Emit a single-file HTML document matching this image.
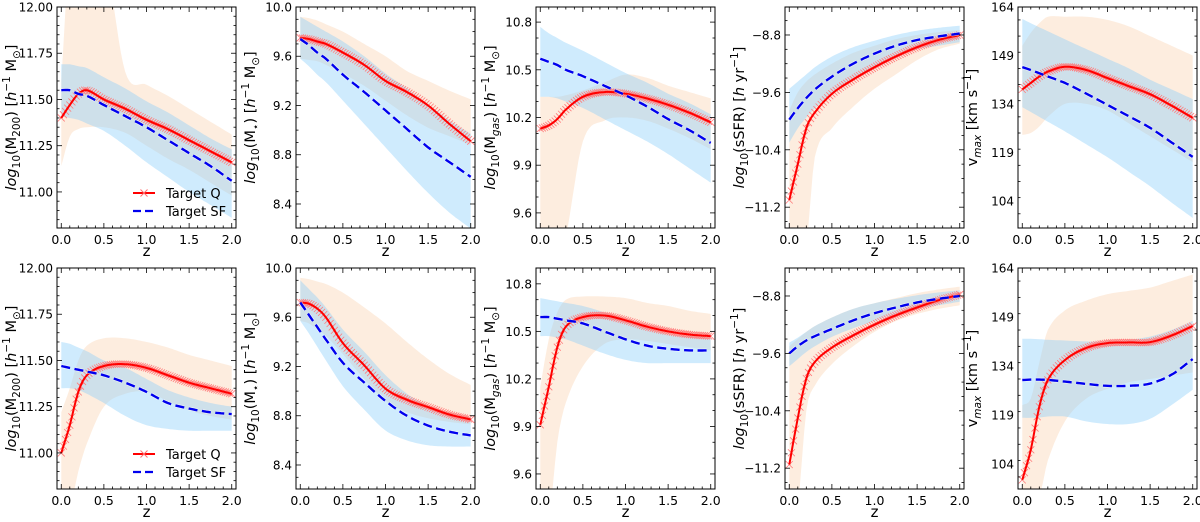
<!DOCTYPE html>
<html><head><meta charset="utf-8"><style>
body{margin:0;background:#fff}
svg{display:block;font-family:"DejaVu Sans","Liberation Sans",sans-serif}
</style></head><body>
<svg id="fig" width="1200" height="522" viewBox="0 0 1200 522"></svg>
<script>
const Z=[0,0.1,0.2,0.3,0.5,0.75,1.0,1.25,1.5,1.75,2.0];
const xTicks=[0,0.5,1.0,1.5,2.0];
const xTickLabels=["0.0","0.5","1.0","1.5","2.0"];
// top row
const m200TopQ=[11.40,11.47,11.53,11.55,11.50,11.45,11.39,11.34,11.28,11.22,11.16];
const m200TopSF=[11.55,11.55,11.53,11.52,11.47,11.41,11.35,11.28,11.21,11.14,11.06];
const m200TopQHi=[11.6,12.3,12.3,12.3,12.3,11.65,11.58,11.52,11.45,11.38,11.31];
const m200TopQLo=[11.14,11.3,11.34,11.35,11.35,11.32,11.25,11.18,11.12,11.05,10.98];
const m200TopSFHi=[11.69,11.69,11.68,11.67,11.62,11.56,11.49,11.43,11.36,11.29,11.23];
const m200TopSFLo=[11.41,11.40,11.39,11.37,11.33,11.25,11.16,11.08,11.0,10.93,10.86];
const mstarTopQ=[9.75,9.74,9.72,9.70,9.63,9.53,9.40,9.31,9.20,9.05,8.91];
const mstarTopSF=[9.74,9.69,9.63,9.58,9.45,9.31,9.16,9.01,8.86,8.74,8.62];
const mstarTopQHi=[9.92,9.91,9.89,9.86,9.80,9.70,9.60,9.48,9.40,9.32,9.25];
const mstarTopQLo=[9.58,9.57,9.56,9.53,9.46,9.36,9.24,9.12,9.02,8.95,8.88];
const mstarTopSFHi=[9.92,9.88,9.84,9.80,9.72,9.60,9.46,9.34,9.21,9.08,8.97];
const mstarTopSFLo=[9.58,9.52,9.45,9.39,9.24,9.05,8.86,8.67,8.49,8.33,8.2];
const mgasTopQ=[10.13,10.15,10.19,10.25,10.33,10.36,10.35,10.32,10.28,10.23,10.17];
const mgasTopSF=[10.57,10.55,10.53,10.50,10.46,10.40,10.34,10.27,10.19,10.12,10.04];
const mgasTopQHi=[10.33,10.33,10.33,10.34,10.37,10.42,10.47,10.45,10.40,10.36,10.32];
const mgasTopQLo=[9.3,9.3,9.3,9.45,10.05,10.18,10.2,10.18,10.13,10.07,10.0];
const mgasTopSFHi=[10.77,10.73,10.70,10.67,10.62,10.55,10.48,10.42,10.35,10.29,10.22];
const mgasTopSFLo=[10.33,10.33,10.32,10.30,10.26,10.19,10.12,10.05,9.97,9.88,9.79];
const ssfrTopQ=[-11.1,-10.6,-10.1,-9.88,-9.62,-9.42,-9.25,-9.1,-8.97,-8.87,-8.80];
const ssfrTopSF=[-9.98,-9.82,-9.68,-9.56,-9.38,-9.2,-9.06,-8.95,-8.87,-8.82,-8.78];
const ssfrTopQHi=[-9.85,-9.6,-9.45,-9.35,-9.2,-9.05,-8.95,-8.86,-8.80,-8.76,-8.73];
const ssfrTopQLo=[-11.7,-11.7,-11.7,-10.5,-10.1,-9.8,-9.55,-9.35,-9.15,-9.0,-8.92];
const ssfrTopSFHi=[-9.55,-9.45,-9.35,-9.25,-9.1,-8.97,-8.88,-8.80,-8.74,-8.70,-8.67];
const ssfrTopSFLo=[-10.3,-10.1,-9.95,-9.82,-9.62,-9.42,-9.27,-9.12,-9.0,-8.95,-8.9];
const vmaxTopQ=[138.5,140.5,142.5,144,145.5,144.5,142,139.5,137,133.5,129.7];
const vmaxTopSF=[145.4,144.5,143.5,142.5,140.5,137.2,133.7,130.2,126.6,122.1,117.6];
const vmaxTopQHi=[152,156,159,161,161,161,160,158,155,152,149];
const vmaxTopQLo=[124.4,125,127,130,134,134,132,128,124,120,116];
const vmaxTopSFHi=[160.3,159,157.7,156.5,154,151,148,145,141.5,138.5,135.5];
const vmaxTopSFLo=[133,131.5,130,128.5,125.5,121.5,117.5,113,108.5,103.5,98.7];
// bottom row
const m200BotQ=[11.0,11.15,11.33,11.42,11.47,11.48,11.46,11.42,11.38,11.35,11.32];
const m200BotSF=[11.47,11.46,11.45,11.44,11.42,11.38,11.33,11.27,11.24,11.22,11.21];
const m200BotQHi=[11.22,11.35,11.50,11.58,11.62,11.62,11.60,11.57,11.53,11.50,11.47];
const m200BotQLo=[10.7,10.7,10.9,11.05,11.25,11.32,11.33,11.28,11.23,11.2,11.18];
const m200BotSFHi=[11.60,11.59,11.57,11.55,11.50,11.46,11.40,11.34,11.30,11.27,11.25];
const m200BotSFLo=[11.35,11.35,11.34,11.32,11.27,11.2,11.15,11.13,11.12,11.12,11.12];
const mstarBotQ=[9.72,9.71,9.67,9.60,9.39,9.21,9.02,8.93,8.87,8.81,8.77];
const mstarBotSF=[9.72,9.62,9.52,9.42,9.23,9.07,8.92,8.80,8.72,8.67,8.64];
const mstarBotQHi=[9.92,9.91,9.89,9.87,9.80,9.68,9.55,9.40,9.26,9.14,9.05];
const mstarBotQLo=[9.57,9.55,9.5,9.45,9.3,9.1,8.92,8.83,8.78,8.75,8.73];
const mstarBotSFHi=[9.90,9.83,9.76,9.68,9.50,9.32,9.13,8.98,8.88,8.82,8.78];
const mstarBotSFLo=[9.57,9.47,9.36,9.25,9.04,8.85,8.68,8.6,8.56,8.55,8.55];
const mgasBotQ=[9.91,10.15,10.40,10.53,10.59,10.60,10.57,10.53,10.50,10.48,10.47];
const mgasBotSF=[10.59,10.59,10.58,10.57,10.55,10.50,10.45,10.41,10.39,10.38,10.38];
const mgasBotQHi=[10.15,10.45,10.62,10.70,10.72,10.72,10.71,10.68,10.66,10.63,10.61];
const mgasBotQLo=[9.3,9.3,9.8,10.05,10.28,10.42,10.45,10.44,10.42,10.40,10.38];
const mgasBotSFHi=[10.71,10.70,10.69,10.68,10.66,10.62,10.57,10.52,10.48,10.47,10.46];
const mgasBotSFLo=[10.47,10.47,10.46,10.45,10.41,10.36,10.32,10.30,10.30,10.30,10.30];
const ssfrBotQ=[-11.15,-10.5,-9.95,-9.72,-9.52,-9.35,-9.2,-9.07,-8.96,-8.86,-8.78];
const ssfrBotSF=[-9.6,-9.5,-9.42,-9.36,-9.26,-9.14,-9.04,-8.96,-8.89,-8.84,-8.80];
const ssfrBotQHi=[-9.5,-9.4,-9.3,-9.22,-9.1,-8.98,-8.9,-8.83,-8.76,-8.71,-8.67];
const ssfrBotQLo=[-11.7,-11.7,-10.4,-10.05,-9.75,-9.5,-9.3,-9.15,-9.05,-8.98,-8.93];
const ssfrBotSFHi=[-9.45,-9.38,-9.3,-9.22,-9.1,-8.98,-8.9,-8.84,-8.79,-8.75,-8.72];
const ssfrBotSFLo=[-9.78,-9.68,-9.58,-9.5,-9.37,-9.25,-9.15,-9.05,-8.98,-8.93,-8.88];
const vmaxBotQ=[99.1,108.3,121.5,129.7,135.8,139.5,141,141.2,141.3,143.3,146.2];
const vmaxBotSF=[129.7,129.8,129.8,129.7,129.2,128.5,127.9,127.9,128.6,131.3,136.1];
const vmaxBotQHi=[122,124,135,145,151,154,156,157,158,160,162];
const vmaxBotQLo=[94,94,94,105,117,124,127,129,130,131,132];
const vmaxBotSFHi=[142.3,142.3,142.2,142,141.8,141.5,141.5,142,143,145,147.8];
const vmaxBotSFLo=[118.1,118.1,118.2,118.5,118.5,117,116.2,116.2,117.8,122,126.7];

const NS="http://www.w3.org/2000/svg";
const svg=document.getElementById('fig');
function mk(tag,attrs,parent){const e=document.createElementNS(NS,tag);for(const k in attrs)e.setAttribute(k,attrs[k]);(parent||svg).appendChild(e);return e;}
function interp(V,z){let i=0;while(i<Z.length-2&&z>Z[i+1])i++;
  const tan=j=>{if(j===0)return (V[1]-V[0])/(Z[1]-Z[0]);if(j===Z.length-1)return (V[j]-V[j-1])/(Z[j]-Z[j-1]);return (V[j+1]-V[j-1])/(Z[j+1]-Z[j-1]);};
  const h=Z[i+1]-Z[i],t=(z-Z[i])/h,t2=t*t,t3=t2*t;
  return (2*t3-3*t2+1)*V[i]+(t3-2*t2+t)*h*tan(i)+(-2*t3+3*t2)*V[i+1]+(t3-t2)*h*tan(i+1);}
const W=179,H=221,XMIN=-0.05,XMAX=2.05;
const panels=[
 {id:'m200-top',L:57,T:7,ymin:10.805,ymax:12.0,maj:[11.0,11.25,11.5,11.75,12.0],dec:2,minor:0.05,lab:'m200',d:[m200TopQ,m200TopSF,m200TopQHi,m200TopQLo,m200TopSFHi,m200TopSFLo],legend:true},
 {id:'mstar-top',L:296,T:7,ymin:8.205,ymax:10.0,maj:[8.4,8.8,9.2,9.6,10.0],dec:1,minor:0.1,lab:'mstar',d:[mstarTopQ,mstarTopSF,mstarTopQHi,mstarTopQLo,mstarTopSFHi,mstarTopSFLo]},
 {id:'mgas-top',L:536,T:7,ymin:9.505,ymax:10.895,maj:[9.6,9.9,10.2,10.5,10.8],dec:1,minor:0.1,lab:'mgas',d:[mgasTopQ,mgasTopSF,mgasTopQHi,mgasTopQLo,mgasTopSFHi,mgasTopSFLo]},
 {id:'ssfr-top',L:785,T:7,ymin:-11.49,ymax:-8.41,maj:[-11.2,-10.4,-9.6,-8.8],dec:1,minor:0.2,lab:'ssfr',d:[ssfrTopQ,ssfrTopSF,ssfrTopQHi,ssfrTopQLo,ssfrTopSFHi,ssfrTopSFLo]},
 {id:'vmax-top',L:1018,T:7,ymin:95.6,ymax:164,maj:[104,119,134,149,164],dec:0,minor:5,lab:'vmax',d:[vmaxTopQ,vmaxTopSF,vmaxTopQHi,vmaxTopQLo,vmaxTopSFHi,vmaxTopSFLo]},
 {id:'m200-bottom',L:57,T:268,ymin:10.805,ymax:12.0,maj:[11.0,11.25,11.5,11.75,12.0],dec:2,minor:0.05,lab:'m200',d:[m200BotQ,m200BotSF,m200BotQHi,m200BotQLo,m200BotSFHi,m200BotSFLo],legend:true},
 {id:'mstar-bottom',L:296,T:268,ymin:8.205,ymax:10.0,maj:[8.4,8.8,9.2,9.6,10.0],dec:1,minor:0.1,lab:'mstar',d:[mstarBotQ,mstarBotSF,mstarBotQHi,mstarBotQLo,mstarBotSFHi,mstarBotSFLo]},
 {id:'mgas-bottom',L:536,T:268,ymin:9.505,ymax:10.9,maj:[9.6,9.9,10.2,10.5,10.8],dec:1,minor:0.1,lab:'mgas',d:[mgasBotQ,mgasBotSF,mgasBotQHi,mgasBotQLo,mgasBotSFHi,mgasBotSFLo]},
 {id:'ssfr-bottom',L:785,T:268,ymin:-11.49,ymax:-8.41,maj:[-11.2,-10.4,-9.6,-8.8],dec:1,minor:0.2,lab:'ssfr',d:[ssfrBotQ,ssfrBotSF,ssfrBotQHi,ssfrBotQLo,ssfrBotSFHi,ssfrBotSFLo]},
 {id:'vmax-bottom',L:1018,T:268,ymin:96.3,ymax:164,maj:[104,119,134,149,164],dec:0,minor:5,lab:'vmax',d:[vmaxBotQ,vmaxBotSF,vmaxBotQHi,vmaxBotQLo,vmaxBotSFHi,vmaxBotSFLo]}
];
function ylabel(g,kind,x,y){
  const t=mk('text',{x:0,y:0,transform:`translate(${x},${y}) rotate(-90)`,'text-anchor':'middle','font-size':'14.5',fill:'#000'},g);
  
  
  const parts={
   m200:[['log','i'],['10','s'],['(M',''],['200','s'],[') [',''],['h','i'],['−1','u'],[' M',''],['⊙','s'],[']','']],
   mstar:[['log','i'],['10','s'],['(M',''],['⋆','s'],[') [',''],['h','i'],['−1','u'],[' M',''],['⊙','s'],[']','']],
   mgas:[['log','i'],['10','s'],['(M',''],['gas','si'],[') [',''],['h','i'],['−1','u'],[' M',''],['⊙','s'],[']','']],
   ssfr:[['log','i'],['10','s'],['(sSFR) [',''],['h','i'],[' yr',''],['−1','u'],[']','']],
   vmax:[['v',''],['max','si'],[' [km s',''],['−1','u'],[']','']]}[kind];
  let shift=0;
  parts.forEach(([s,f])=>{const ts=mk('tspan',{},t);ts.textContent=s;
    let dy=0,fs=null;
    if(f.includes('s')){dy=4-shift;shift=4;fs=10.5;}else if(f.includes('u')){dy=-6-shift;shift=-6;fs=10.5;}else{dy=-shift;shift=0;}
    if(dy)ts.setAttribute('dy',dy);if(fs)ts.setAttribute('font-size',fs);if(f.includes('i'))ts.setAttribute('font-style','italic');});
}
panels.forEach((p,pi)=>{
  const g=mk('g',{});
  
  
  const xs=z=>p.L+(z-XMIN)/(XMAX-XMIN)*W;
  const ys=v=>p.T+H-(v-p.ymin)/(p.ymax-p.ymin)*H;
  const cid='clip'+pi;
  const cp=mk('clipPath',{id:cid},g);mk('rect',{x:p.L,y:p.T,width:W,height:H},cp);
  const plot=mk('g',{'clip-path':`url(#${cid})`},g);
  const N=80;const zz=[];for(let i=0;i<=N;i++)zz.push(2*i/N);
  function band(hi,lo,fill,op,name){let d='M';zz.forEach((z,i)=>{d+=(i?'L':'')+xs(z).toFixed(1)+','+ys(interp(hi,z)).toFixed(1);});
    for(let i=zz.length-1;i>=0;i--)d+='L'+xs(zz[i]).toFixed(1)+','+ys(interp(lo,zz[i])).toFixed(1);d+='Z';
    const e=mk('path',{d,fill,'fill-opacity':op,stroke:'none'},plot);
    
    }
  band(p.d[2],p.d[3],'#f4a460',0.2,'target-q-band');
  band(p.d[4],p.d[5],'#87cefa',0.4,'target-sf-band');
  function line(V,attrs,name){let d='';zz.forEach((z,i)=>{d+=(i?'L':'M')+xs(z).toFixed(1)+','+ys(interp(V,z)).toFixed(1);});
    const e=mk('path',Object.assign({d,fill:'none'},attrs),plot);
    
    return e;}
  const mg=mk('g',{stroke:'#ff7a7a','stroke-width':0.8},plot);
  
  
  for(let i=0;i<=80;i++){const z=2*i/80;const x=xs(z),y=ys(interp(p.d[0],z));const s=3.5;
    mk('path',{d:`M${x-s},${y-s}L${x+s},${y+s}M${x-s},${y+s}L${x+s},${y-s}`},mg);}
  line(p.d[0],{stroke:'#ff0000','stroke-width':2},'target-q-line');
  line(p.d[1],{stroke:'#fff','stroke-width':3.8,'stroke-dasharray':'9,4.5','stroke-opacity':0.6},'target-sf-halo');
  line(p.d[1],{stroke:'#0000ee','stroke-width':2.4,'stroke-dasharray':'9,4.5'},'target-sf-line');
  const fr=mk('rect',{x:p.L,y:p.T,width:W,height:H,fill:'none',stroke:'#000','stroke-width':1},g);
  
  
  const tk=mk('g',{stroke:'#000','stroke-width':0.8},g);
  for(let m=0;m<=20;m++){const z=m*0.1;const x=xs(z);const len=(m%5===0)?5:2.5;
    mk('line',{x1:x,y1:p.T+H,x2:x,y2:p.T+H-len},tk);mk('line',{x1:x,y1:p.T,x2:x,y2:p.T+len},tk);}
  xTicks.forEach((z,i)=>{const t=mk('text',{x:xs(z),y:p.T+H+16,'text-anchor':'middle','font-size':'12.5',fill:'#000'},g);t.textContent=xTickLabels[i];
    
    });
  const xl=mk('text',{x:p.L+W/2,y:p.T+H+28,'text-anchor':'middle','font-size':'15',fill:'#000'},g);xl.textContent='z';
  
  
  const start=Math.ceil((p.ymin)/p.minor-1e-6);
  for(let k=start;k*p.minor<=p.ymax+1e-6;k++){const v=k*p.minor;const y=ys(v);
    const isMaj=p.maj.some(m=>Math.abs(m-v)<1e-6);const len=isMaj?5:2.5;
    mk('line',{x1:p.L,y1:y,x2:p.L+len,y2:y},tk);mk('line',{x1:p.L+W,y1:y,x2:p.L+W-len,y2:y},tk);}
  p.maj.forEach(v=>{const t=mk('text',{x:p.L-4,y:ys(v)+4.5,'text-anchor':'end','font-size':'12',fill:'#000'},g);
    t.textContent=v.toFixed(p.dec).replace('-','−');
    
    });
  ylabel(g,p.lab,p.L-41,p.T+H/2);
  if(p.legend){
    const lg=mk('g',{},g);
    
    
    const y1=p.T+186,y2=p.T+204;
    const e1=mk('g',{},lg);
    
    
    mk('line',{x1:p.L+76,y1:y1,x2:p.L+98,y2:y1,stroke:'#ff0000','stroke-width':2},e1);
    mk('path',{d:`M${p.L+83.5},${y1-3.5}L${p.L+90.5},${y1+3.5}M${p.L+83.5},${y1+3.5}L${p.L+90.5},${y1-3.5}`,stroke:'#ff6f6f','stroke-width':1},e1);
    const t1=mk('text',{x:p.L+109,y:y1+5,'font-size':'13',fill:'#000'},e1);t1.textContent='Target Q';
    const e2=mk('g',{},lg);
    
    
    mk('line',{x1:p.L+76,y1:y2,x2:p.L+98,y2:y2,stroke:'#0000ee','stroke-width':2.2,'stroke-dasharray':'8,4'},e2);
    const t2=mk('text',{x:p.L+109,y:y2+5,'font-size':'13',fill:'#000'},e2);t2.textContent='Target SF';
  }
});
</script>
</body></html>
